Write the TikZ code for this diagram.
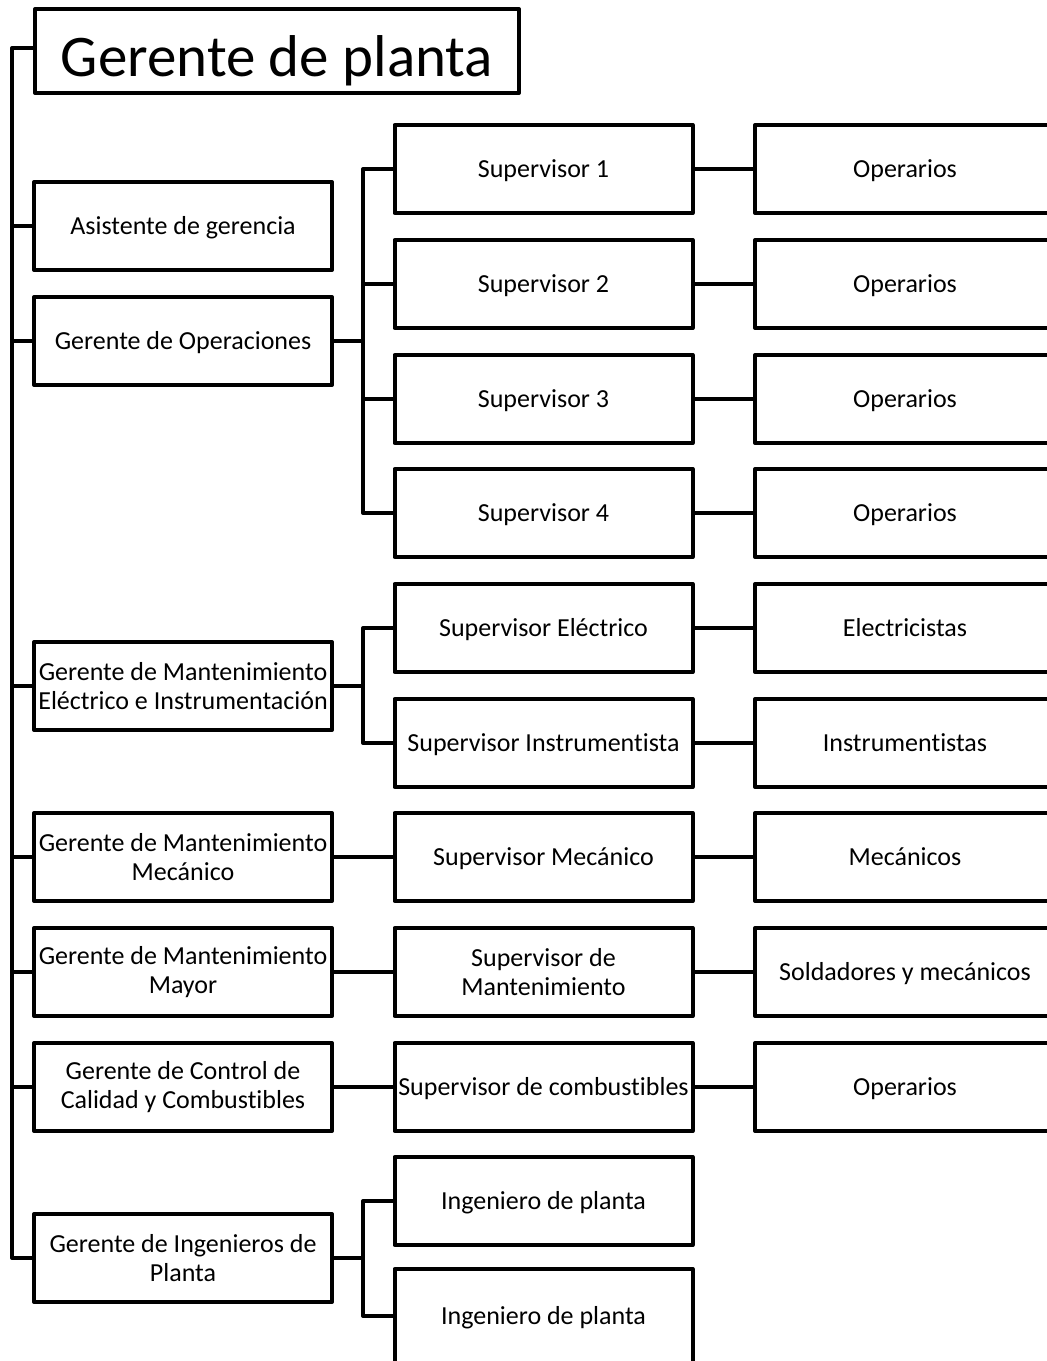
\documentclass[tikz,border=0pt]{standalone}
\usepackage{fontspec}
\setmainfont{Carlito}[Ligatures=NoCommon]
\begin{document}
\begin{tikzpicture}[x=1pt,y=-1pt,
  boxbase/.style={draw=black, line width=4pt, line join=round, minimum width=298pt, minimum height=88pt,
    inner sep=0pt, align=center, font=\fontsize{26}{29}\selectfont, text=black},
  box/.style={boxbase, text height=21pt, text depth=5pt},
  boxtwo/.style={boxbase},
  wide/.style={minimum width=300pt},
  conn/.style={draw=black, line width=4pt, line join=round}]
\useasboundingbox (0,0) rectangle (1047,1361);
\clip (0,0) rectangle (1047,1361);
\fill[white] (0,0) rectangle (1047,1361);
% title
\node[boxbase, minimum width=484pt, minimum height=84pt, text height=58pt, text depth=8pt,
  font=\fontsize{59}{64}\selectfont] (gp) at (277,51) {Gerente de planta};
% left column
\node[box] (asis) at (183,226) {Asistente de gerencia};
\node[box] (gop) at (183,341) {Gerente de Operaciones};
\node[boxtwo] (gme) at (183,686) {Gerente de Mantenimiento\\Eléctrico e Instrumentación};
\node[boxtwo] (gmm) at (183,857) {Gerente de Mantenimiento\\Mecánico};
\node[boxtwo] (gmy) at (183,972) {Gerente de Mantenimiento\\Mayor};
\node[boxtwo] (gcc) at (183,1087) {Gerente de Control de\\Calidad y Combustibles};
\node[boxtwo] (gin) at (183,1258) {Gerente de Ingenieros de\\Planta};
% middle column
\node[box] (s1) at (543.5,169) {Supervisor 1};
\node[box] (s2) at (543.5,284) {Supervisor 2};
\node[box] (s3) at (543.5,399) {Supervisor 3};
\node[box] (s4) at (543.5,513) {Supervisor 4};
\node[box] (se) at (543.5,628) {Supervisor Eléctrico};
\node[box] (si) at (543.5,743) {Supervisor Instrumentista};
\node[box] (sm) at (543.5,857) {Supervisor Mecánico};
\node[boxtwo] (sdm) at (543.5,972) {Supervisor de\\Mantenimiento};
\node[box] (sc) at (543.5,1087) {Supervisor de combustibles};
\node[box] (i1) at (543.5,1201) {Ingeniero de planta};
\node[box, minimum height=94pt] (i2) at (543.5,1316) {Ingeniero de planta};
% right column
\node[box, wide] (o1) at (905,169) {Operarios};
\node[box, wide] (o2) at (905,284) {Operarios};
\node[box, wide] (o3) at (905,399) {Operarios};
\node[box, wide] (o4) at (905,513) {Operarios};
\node[box, wide] (el) at (905,628) {Electricistas};
\node[box, wide] (in) at (905,743) {Instrumentistas};
\node[box, wide] (me) at (905,857) {Mecánicos};
\node[box, wide] (so) at (905,972) {Soldadores y mecánicos};
\node[box, wide] (o5) at (905,1087) {Operarios};
% trunk
\coordinate (tr) at (12,0);
\coordinate (b) at (363,0);
\draw[conn] ([yshift=3pt]gp.west) -- ([yshift=3pt]gp.west -| tr) -- (gin.west -| tr) -- (gin.west);
\foreach \n in {asis,gop,gme,gmm,gmy,gcc}{
  \draw[conn] (\n.west) -- (\n.west -| tr);
}
% operations branch
\draw[conn] (s1.west) -- (s1.west -| b) -- (s4.west -| b) -- (s4.west);
\draw[conn] (s2.west) -- (s2.west -| b);
\draw[conn] (s3.west) -- (s3.west -| b);
\draw[conn] (gop.east) -- (gop.east -| b);
% electrical branch
\draw[conn] (se.west) -- (se.west -| b) -- (si.west -| b) -- (si.west);
\draw[conn] (gme.east) -- (gme.east -| b);
% engineers branch
\draw[conn] (i1.west) -- (i1.west -| b) -- (i2.west -| b) -- (i2.west);
\draw[conn] (gin.east) -- (gin.east -| b);
% single links
\draw[conn] (gmm.east) -- (sm.west);
\draw[conn] (gmy.east) -- (sdm.west);
\draw[conn] (gcc.east) -- (sc.west);
% to right column
\draw[conn] (s1.east) -- (o1.west);
\draw[conn] (s2.east) -- (o2.west);
\draw[conn] (s3.east) -- (o3.west);
\draw[conn] (s4.east) -- (o4.west);
\draw[conn] (se.east) -- (el.west);
\draw[conn] (si.east) -- (in.west);
\draw[conn] (sm.east) -- (me.west);
\draw[conn] (sdm.east) -- (so.west);
\draw[conn] (sc.east) -- (o5.west);
\end{tikzpicture}
\end{document}
